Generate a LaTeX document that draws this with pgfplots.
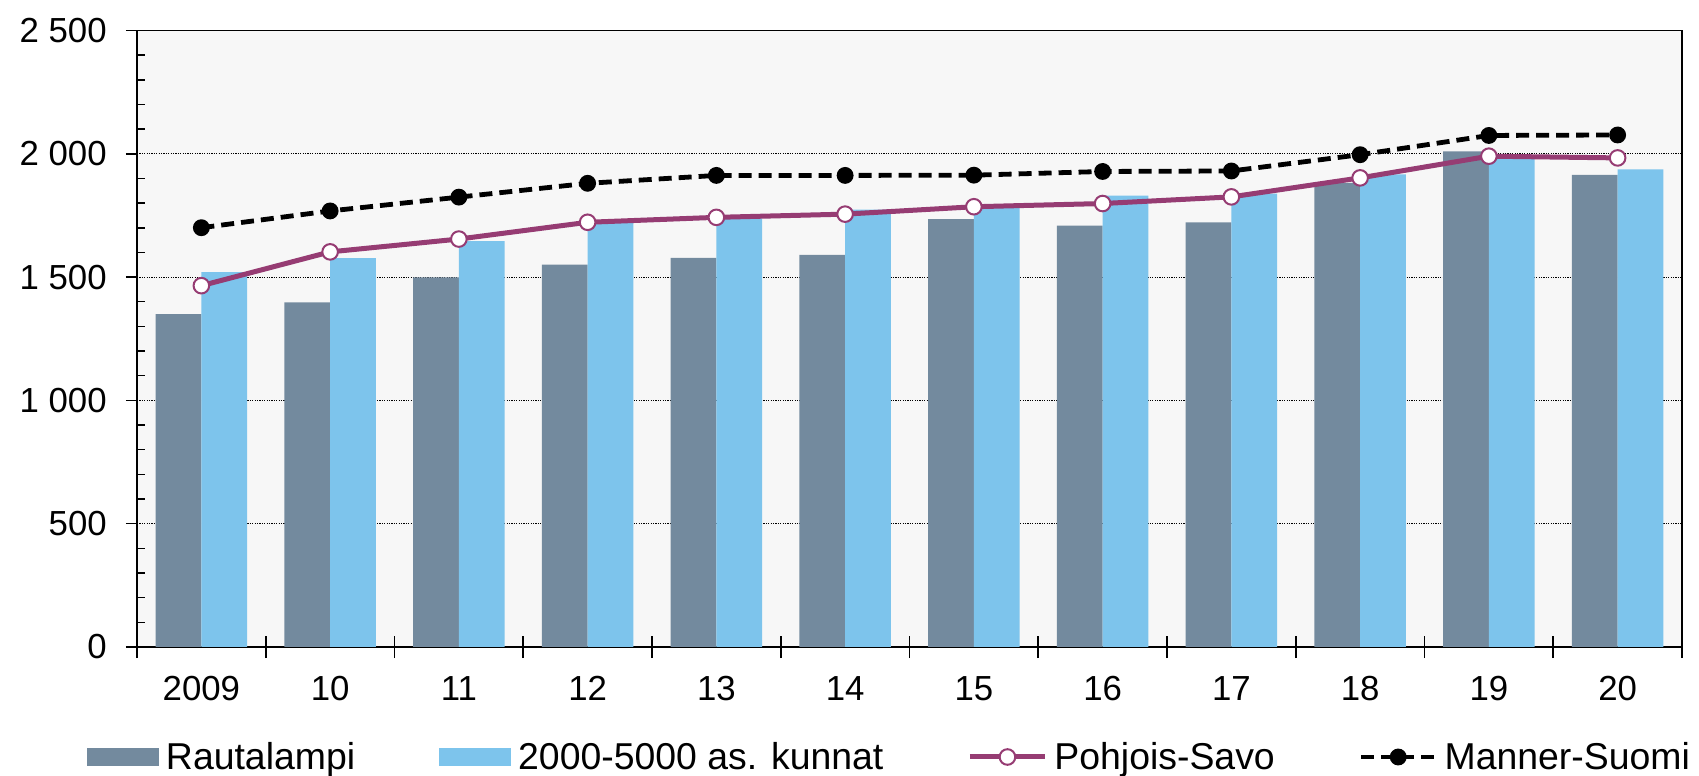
\documentclass[border=0pt]{standalone}
\usepackage{fontspec}
\setmainfont{Liberation Sans}
\usepackage{pgfplots}
\usepackage{pgfplotstable}
\pgfplotsset{compat=1.18}
\definecolor{rauta}{HTML}{738A9E}
\definecolor{kunnat}{HTML}{7DC4EC}
\definecolor{psavo}{HTML}{963C73}
\definecolor{plotbg}{HTML}{F7F7F7}

\pgfplotstableread{
x r k p m
0 1350 1520 1465 1700
1 1397 1577 1602 1768
2 1499 1646 1654 1824
3 1550 1720 1722 1880
4 1578 1738 1742 1912
5 1590 1773 1755 1912
6 1735 1790 1785 1913
7 1708 1830 1798 1928
8 1722 1838 1825 1930
9 1882 1916 1902 1996
10 2009 1985 1990 2074
11 1914 1936 1983 2076
}\data

\pgfplotsset{
  psavolegend/.style={legend image code/.code={\draw[##1, mark repeat=2, mark phase=2] plot coordinates {(0pt,0pt) (18.75pt,0pt) (37.5pt,0pt)};}},
  mannerlegend/.style={legend image code/.code={\draw[##1, mark repeat=2, mark phase=2] plot coordinates {(0pt,0pt) (18.5pt,0pt) (37pt,0pt)};}},
}

\begin{document}
\begin{tikzpicture}
\path[use as bounding box] (-68.5pt,-64.5pt) rectangle (781pt,323.5pt);
\begin{axis}[
  at={(0pt,0pt)}, anchor=south west,
  width=772.5pt, height=308.3pt, scale only axis,
  xmin=-0.5, xmax=11.5, ymin=0, ymax=2500,
  axis background/.style={fill=plotbg},
  axis line style={black, line width=0.8pt},
  tick style={black, line width=0.8pt},
  tick pos=left,
  ytick={0,500,1000,1500,2000,2500},
  yticklabels={0,500,{1 000},{1 500},{2 000},{2 500}},
  yticklabel style={xshift=-6pt},
  minor y tick num=4,
  ytick align=outside,
  major tick length=5.6pt,
  minor tick length=4.2pt,
  minor y tick style={xshift=4.2pt},
  ymajorgrids,
  major grid style={black, line width=0.5pt, dash pattern=on 0.6pt off 0.6pt},
  xtick={-0.5,0.5,1.5,2.5,3.5,4.5,5.5,6.5,7.5,8.5,9.5,10.5,11.5},
  xticklabels={2009,10,11,12,13,14,15,16,17,18,19,20,{}},
  xticklabel style={xshift=32.19pt, yshift=-5.4pt},
  xtick align=outside,
  extra x ticks={-0.5,0.5,1.5,2.5,3.5,4.5,5.5,6.5,7.5,8.5,9.5,10.5,11.5},
  extra x tick labels={},
  extra x tick style={xtick align=inside, grid=none},
  tick label style={font=\fontsize{17.4}{21}\selectfont},
  legend columns=4,
  legend style={at={(0,0)}, anchor=west, xshift=-25pt, yshift=-55pt,
    draw=none, fill=none, inner sep=0pt, outer sep=0pt,
    font=\fontsize{18.7}{22}\selectfont,
    nodes={inner sep=0pt},
    /tikz/every odd column/.style={column sep=3.5pt},
    /tikz/every even column/.style={column sep=42pt}},
]
\addplot[ybar, bar width=22.9pt, bar shift=-11.45pt, fill=rauta, draw=none,
  legend image code/.code={\fill[rauta] (0pt,-4.6pt) rectangle (36pt,4.6pt);}]
  table[x=x,y=r]{\data};
\addlegendentry{Rautalampi}
\addplot[ybar, bar width=22.9pt, bar shift=11.45pt, fill=kunnat, draw=none,
  legend image code/.code={\fill[kunnat] (0pt,-4.6pt) rectangle (36pt,4.6pt);}]
  table[x=x,y=k]{\data};
\addlegendentry{2000-5000 as. kunnat}
\addplot[psavo, line width=2.5pt, mark=*, mark size=3.9pt,
  mark options={fill=white, draw=psavo, line width=1pt}, psavolegend]
  table[x=x,y=p]{\data};
\addlegendentry{Pohjois-Savo}
\addplot[black, line width=2.4pt, dash pattern=on 6.5pt off 3.5pt, mark=*, mark size=3pt,
  mark options={solid, fill=black}, mannerlegend]
  table[x=x,y=m]{\data};
\addlegendentry{Manner-Suomi}
\end{axis}
\end{tikzpicture}
\end{document}
